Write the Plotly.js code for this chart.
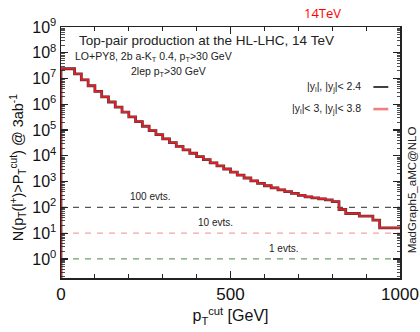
<!DOCTYPE html>
<html>
<head>
<meta charset="utf-8">
<script src="https://cdn.plot.ly/plotly-3.0.1.min.js"></script>
<style>html,body{margin:0;padding:0;background:#fff;}#chart{width:420px;height:332px;}</style>
</head>
<body>
<div id="chart"></div>
<script>
// Lower edges of the pT^cut bins [GeV]
const ptCut = [0,20,40,60,80,100,120,140,160,180,200,220,240,260,280,300,320,340,360,380,
  400,420,440,460,480,500,520,540,560,580,600,620,640,660,680,700,720,740,760,780,
  800,820,840,860,880,900,920,940,960,980];
const ptMax = 1000;
// N(pT(l+) > pT^cut) @ 3 ab^-1, |y_l|,|y_j| < 2.4
const nCentral = [2.4e7,2.4e7,1.51e7,8.91e6,5.25e6,3.16e6,1.95e6,1.23e6,7.76e5,5.01e5,
  3.24e5,2.14e5,1.41e5,9.55e4,6.61e4,4.57e4,3.24e4,2.34e4,1.70e4,1.26e4,
  9330,7080,5370,4070,3090,2340,1780,1380,1070,851,
  692,575,479,407,347,295,257,234,214,195,
  166,83,58,58,46,46,32,16,16,16];
// N(pT(l+) > pT^cut) @ 3 ab^-1, |y_l| < 3, |y_j| < 3.8
const nForward = [2.42e7,2.42e7,1.52e7,8.95e6,5.28e6,3.18e6,1.96e6,1.24e6,7.80e5,5.03e5,
  3.26e5,2.15e5,1.42e5,9.60e4,6.64e4,4.59e4,3.26e4,2.35e4,1.71e4,1.27e4,
  9370,7110,5390,4090,3100,2350,1790,1390,1075,855,
  695,578,481,409,349,296,258,235,215,196,
  167,83,58,58,46,46,32,16,16,16];
const evtLevels = [100, 10, 1];
const evtLabels = ['100 evts.', '10 evts.', '1 evts.'];
const evtLabelX = [263, 455, 657];
const yTickVals = [1, 10, 100, 1e3, 1e4, 1e5, 1e6, 1e7, 1e8, 1e9];
const yTickText = ['10<sup>0</sup>','10<sup>1</sup>','10<sup>2</sup>','10<sup>3</sup>','10<sup>4</sup>',
  '10<sup>5</sup>','10<sup>6</sup>','10<sup>7</sup>','10<sup>8</sup>','10<sup>9</sup>'];

function stepTrace(vals, color, width) {
  const x = [ptCut[0]].concat(ptCut, [ptMax]);
  const y = [0.01].concat(vals, [vals[vals.length - 1]]);
  return {x: x, y: y, type: 'scatter', mode: 'lines', line: {shape: 'hv', color: color, width: width},
          showlegend: false, hoverinfo: 'skip', cliponaxis: true};
}

const traces = [stepTrace(nCentral, '#3a3a3a', 2.8), stepTrace(nForward, '#e41f26', 1.9)];

const evtColors = ['#555555', '#f4a3a3', '#6f9f6f'];
const shapes = evtLevels.map((v, i) => ({type: 'line', xref: 'paper', x0: 0, x1: 1, yref: 'y', y0: v, y1: v,
  line: {color: evtColors[i], width: 1.2, dash: '6px,6px'}, layer: 'below'}));
shapes.push({type: 'line', xref: 'paper', yref: 'paper', x0: 0.9215, x1: 0.9655, y0: 0.761, y1: 0.761, line: {color: '#111', width: 1.6}});
shapes.push({type: 'line', xref: 'paper', yref: 'paper', x0: 0.9215, x1: 0.9655, y0: 0.673, y1: 0.673, line: {color: '#f08080', width: 2.6}});

const F = 'Liberation Sans, Arial, sans-serif';
const annotations = [
  {xref: 'paper', yref: 'paper', x: 0.048, y: 0.948, xanchor: 'left', yanchor: 'middle', showarrow: false,
   text: 'Top-pair production at the HL-LHC, 14 TeV', font: {family: F, size: 13.5, color: '#222'}},
  {xref: 'paper', yref: 'paper', x: 0.036, y: 0.882, xanchor: 'left', yanchor: 'middle', showarrow: false,
   text: 'LO+PY8, 2b a-K<sub>T</sub> 0.4, p<sub>T</sub>>30 GeV', font: {family: F, size: 10.5, color: '#222'}},
  {xref: 'paper', yref: 'paper', x: 0.202, y: 0.822, xanchor: 'left', yanchor: 'middle', showarrow: false,
   text: '2lep p<sub>T</sub>>30 GeV', font: {family: F, size: 10.5, color: '#222'}},
  {xref: 'paper', yref: 'paper', x: 0.89, y: 0.761, xanchor: 'right', yanchor: 'middle', showarrow: false,
   text: '|y<sub>l</sub>|, |y<sub>j</sub>|< 2.4', font: {family: F, size: 10.5, color: '#222'}},
  {xref: 'paper', yref: 'paper', x: 0.89, y: 0.673, xanchor: 'right', yanchor: 'middle', showarrow: false,
   text: '|y<sub>l</sub>|< 3, |y<sub>j</sub>|< 3.8', font: {family: F, size: 10.5, color: '#222'}},
  {xref: 'paper', yref: 'paper', x: 0.77, y: 1.056, xanchor: 'center', yanchor: 'middle', showarrow: false,
   text: '14TeV', font: {family: 'Open Sans, DejaVu Sans, sans-serif', size: 13, color: '#ff0000'}},
  {xref: 'paper', yref: 'paper', x: 1.036, y: 0.35, xanchor: 'center', yanchor: 'middle', showarrow: false, textangle: -90,
   text: 'MadGraph5_aMC@NLO', font: {family: F, size: 11.5, color: '#222'}},
  {xref: 'paper', yref: 'paper', x: -0.128, y: 0.44, xanchor: 'center', yanchor: 'middle', showarrow: false, textangle: -90,
   text: 'N(p<sub>T</sub>(l<sup>+</sup>)>P<sub>T</sub><sup>cut</sup>) @ 3ab<sup>-1</sup>', font: {family: F, size: 14.5, color: '#111'}}
];
evtLevels.forEach((v, i) => {
  annotations.push({xref: 'x', yref: 'y', x: evtLabelX[i], y: Math.log10(v) + 0.42, xanchor: 'center', yanchor: 'middle',
    showarrow: false, text: evtLabels[i], font: {family: F, size: 10, color: '#222'}});
});

const layout = {
  width: 420, height: 332,
  margin: {l: 61, r: 20, t: 27, b: 54, pad: 0},
  paper_bgcolor: '#fff', plot_bgcolor: '#fff',
  showlegend: false,
  font: {family: F, color: '#111'},
  xaxis: {
    range: [0, 1000], showgrid: false, zeroline: false, showline: true, linecolor: '#222', linewidth: 1.5, mirror: 'ticks',
    ticks: 'inside', ticklen: 7, tickcolor: '#222', tickwidth: 1.2, tickvals: [0, 500, 1000], ticktext: ['0', '500', '1000'],
    tickfont: {family: F, size: 17, color: '#111'},
    minor: {dtick: 100, tick0: 0, ticks: 'inside', ticklen: 4, tickcolor: '#222', tickwidth: 1},
    title: {text: 'p<sub>T</sub><sup>cut</sup> [GeV]', font: {family: F, size: 16, color: '#111'}, standoff: 7}
  },
  yaxis: {
    type: 'log', range: [-0.74, 9.0], showgrid: false, zeroline: false, showline: true, linecolor: '#222', linewidth: 1.5, mirror: 'ticks',
    ticks: 'inside', ticklen: 7, tickcolor: '#222', tickwidth: 1.2, tickvals: yTickVals, ticktext: yTickText,
    tickfont: {family: F, size: 16, color: '#111'},
    minor: {ticks: 'inside', ticklen: 3.5, tickcolor: '#222', tickwidth: 0.8, dtick: 'D1'}
  },
  shapes: shapes,
  annotations: annotations
};

Plotly.newPlot('chart', traces, layout, {staticPlot: true, displayModeBar: false});
</script>
</body>
</html>
